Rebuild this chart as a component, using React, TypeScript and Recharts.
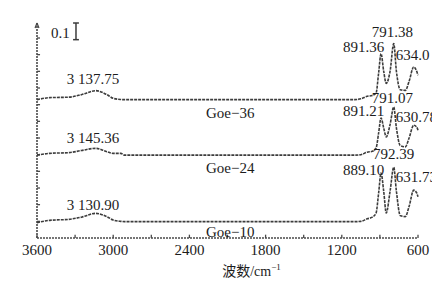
import { LineChart, Line, XAxis, YAxis, ReferenceDot, ReferenceLine } from 'recharts';

// ---------------------------------------------------------------------------
// spectra (absorbance, offset per sample)
// ---------------------------------------------------------------------------

const wavenumbers = [
  3600, 3500, 3350, 3250, 3137, 3050, 3000, 2940, 2910, 2400, 1800, 1100, 1050, 1000, 960,
  930, 910, 891, 870, 850, 820, 791, 770, 740, 700, 670, 634, 610, 600,
];

const goe36 = [
  0.83, 0.842, 0.845, 0.86, 0.884, 0.86, 0.838, 0.831, 0.83, 0.83, 0.83, 0.83, 0.835, 0.85, 0.855,
  0.87, 0.99, 1.106, 1.0, 0.928, 1.0, 1.166, 1.0, 0.89, 0.886, 0.94, 1.026, 1.0, 0.976,
];

const goe24 = [
  0.497, 0.508, 0.512, 0.525, 0.538, 0.518, 0.508, 0.508, 0.497, 0.497, 0.497, 0.497, 0.5, 0.515,
  0.52, 0.54, 0.63, 0.72, 0.66, 0.607, 0.68, 0.786, 0.66, 0.555, 0.547, 0.6, 0.677, 0.665, 0.647,
];

const goe10 = [
  0.092, 0.106, 0.112, 0.125, 0.148, 0.128, 0.108, 0.1, 0.098, 0.098, 0.098, 0.098, 0.1, 0.115,
  0.125, 0.15, 0.27, 0.39, 0.28, 0.15, 0.28, 0.425, 0.28, 0.135, 0.128, 0.19, 0.287, 0.27, 0.247,
];

const xTicks = [3600, 3300, 3000, 2700, 2400, 2100, 1800, 1500, 1200, 900, 600];
const yTicks = [0.1, 0.2, 0.3, 0.4, 0.5, 0.6, 0.7, 0.8, 0.9, 1.0, 1.1, 1.2];

// annotations: text and where it starts (wavenumber, absorbance)
const notes = [
  { text: '0.1', x: 3490, y: 1.233 },
  { text: '3 137.75', x: 3366, y: 0.954 },
  { text: '3 145.36', x: 3366, y: 0.6 },
  { text: '3 130.90', x: 3366, y: 0.198 },
  { text: 'Goe\u221236', x: 2269, y: 0.75 },
  { text: 'Goe\u221224', x: 2269, y: 0.42 },
  { text: 'Goe\u221210', x: 2269, y: 0.036 },
  { text: '791.38', x: 964, y: 1.236 },
  { text: '891.36', x: 1191, y: 1.149 },
  { text: '634.0', x: 776, y: 1.098 },
  { text: '791.07', x: 964, y: 0.843 },
  { text: '891.21', x: 1191, y: 0.762 },
  { text: '630.78', x: 776, y: 0.726 },
  { text: '792.39', x: 954, y: 0.504 },
  { text: '889.10', x: 1191, y: 0.411 },
  { text: '631.73', x: 776, y: 0.366 },
];

const rows = wavenumbers.map((w, i) => ({ w, goe36: goe36[i], goe24: goe24[i], goe10: goe10[i] }));

const SERIF = '"Liberation Serif", "DejaVu Serif", serif';
const CJK = '"Noto Sans CJK SC", sans-serif';
const INK = '#1c1c1c';
const AXIS = '#4a4a4a';
const CURVE = '#3c3c3c';

const XTick = (props: any) => {
  const { x, y, payload } = props;
  if (payload.value % 600 !== 0) return <g />;
  return (
    <text x={x} y={y + 17} textAnchor="middle" fontFamily={SERIF} fontSize={15} fill={INK}>
      {payload.value}
    </text>
  );
};

const Note = (props: any) => {
  const { viewBox, text } = props;
  return (
    <text
      x={viewBox.x}
      y={viewBox.y}
      dominantBaseline="central"
      fontFamily={SERIF}
      fontSize={15}
      fill={INK}
    >
      {text}
    </text>
  );
};

const YTitle = (props: any) => {
  const { viewBox } = props;
  const cx = viewBox.x - 14;
  const cy = viewBox.y + viewBox.height / 2;
  return (
    <text
      x={cx}
      y={cy}
      transform={`rotate(-90 ${cx} ${cy})`}
      textAnchor="middle"
      dominantBaseline="central"
      fontFamily={CJK}
      fontSize={14}
      fill={INK}
    >
      吸光度
    </text>
  );
};

const XTitle = (props: any) => {
  const { viewBox } = props;
  const cx = viewBox.x + viewBox.width / 2 + 24;
  return (
    <text x={cx} y={viewBox.y + 38} textAnchor="middle" fontSize={14} fill={INK}>
      <tspan fontFamily={CJK}>波数</tspan>
      <tspan fontFamily={SERIF}>/cm</tspan>
      <tspan fontFamily={SERIF} fontSize={9} dy={-6}>
        {'\u22121'}
      </tspan>
    </text>
  );
};

const axisStyle = { stroke: AXIS, strokeWidth: 1.6, strokeDasharray: '2 1', ifOverflow: 'visible' as const };
const tickStyle = { stroke: AXIS, strokeWidth: 1.3, ifOverflow: 'visible' as const };

export default function App() {
  return (
    <div style={{ position: 'absolute', left: 0, top: 0, width: 432, height: 281, background: '#fff' }}>
      <LineChart width={432} height={281} data={rows} margin={{ top: 23, right: 14, bottom: 13, left: 37 }}>
        <XAxis
          dataKey="w"
          type="number"
          domain={[600, 3600]}
          reversed
          ticks={xTicks}
          interval={0}
          height={30}
          tickSize={0}
          tickMargin={0}
          tickLine={false}
          axisLine={false}
          tick={<XTick />}
          label={<XTitle />}
        />
        <YAxis
          type="number"
          domain={[0, 1.29]}
          ticks={yTicks}
          interval={0}
          width={0}
          tick={false}
          tickLine={false}
          axisLine={false}
          label={<YTitle />}
        />
        {/* axis frame with inward ticks */}
        <ReferenceLine segment={[{ x: 3600, y: 0 }, { x: 600, y: 0 }]} {...axisStyle} />
        <ReferenceLine segment={[{ x: 3600, y: 0 }, { x: 3600, y: 1.29 }]} {...axisStyle} />
        <ReferenceLine segment={[{ x: 3600, y: 1.29 }, { x: 3615, y: 1.26 }]} {...tickStyle} />
        <ReferenceLine segment={[{ x: 3600, y: 1.29 }, { x: 3585, y: 1.26 }]} {...tickStyle} />
        {xTicks.map((t) => (
          <ReferenceLine key={`xt${t}`} segment={[{ x: t, y: 0 }, { x: t, y: 0.02 }]} {...tickStyle} />
        ))}
        {yTicks.map((t) => (
          <ReferenceLine key={`yt${t}`} segment={[{ x: 3600, y: t }, { x: 3576, y: t }]} {...tickStyle} />
        ))}
        {/* 0.1 absorbance scale bar */}
        <ReferenceLine segment={[{ x: 3293, y: 1.19 }, { x: 3293, y: 1.29 }]} stroke={CURVE} strokeWidth={1.5} ifOverflow="visible" />
        <ReferenceLine segment={[{ x: 3270, y: 1.29 }, { x: 3316, y: 1.29 }]} stroke={CURVE} strokeWidth={1.5} ifOverflow="visible" />
        <ReferenceLine segment={[{ x: 3270, y: 1.19 }, { x: 3316, y: 1.19 }]} stroke={CURVE} strokeWidth={1.5} ifOverflow="visible" />
        <Line type="monotone" dataKey="goe36" stroke={CURVE} strokeWidth={1.6} strokeDasharray="3 1" dot={false} isAnimationActive={false} />
        <Line type="monotone" dataKey="goe24" stroke={CURVE} strokeWidth={1.6} strokeDasharray="3 1" dot={false} isAnimationActive={false} />
        <Line type="monotone" dataKey="goe10" stroke={CURVE} strokeWidth={1.6} strokeDasharray="3 1" dot={false} isAnimationActive={false} />
        {notes.map((n) => (
          <ReferenceDot
            key={n.text}
            x={n.x}
            y={n.y}
            r={0}
            stroke="none"
            fill="none"
            ifOverflow="visible"
            label={<Note text={n.text} />}
          />
        ))}
      </LineChart>
    </div>
  );
}
